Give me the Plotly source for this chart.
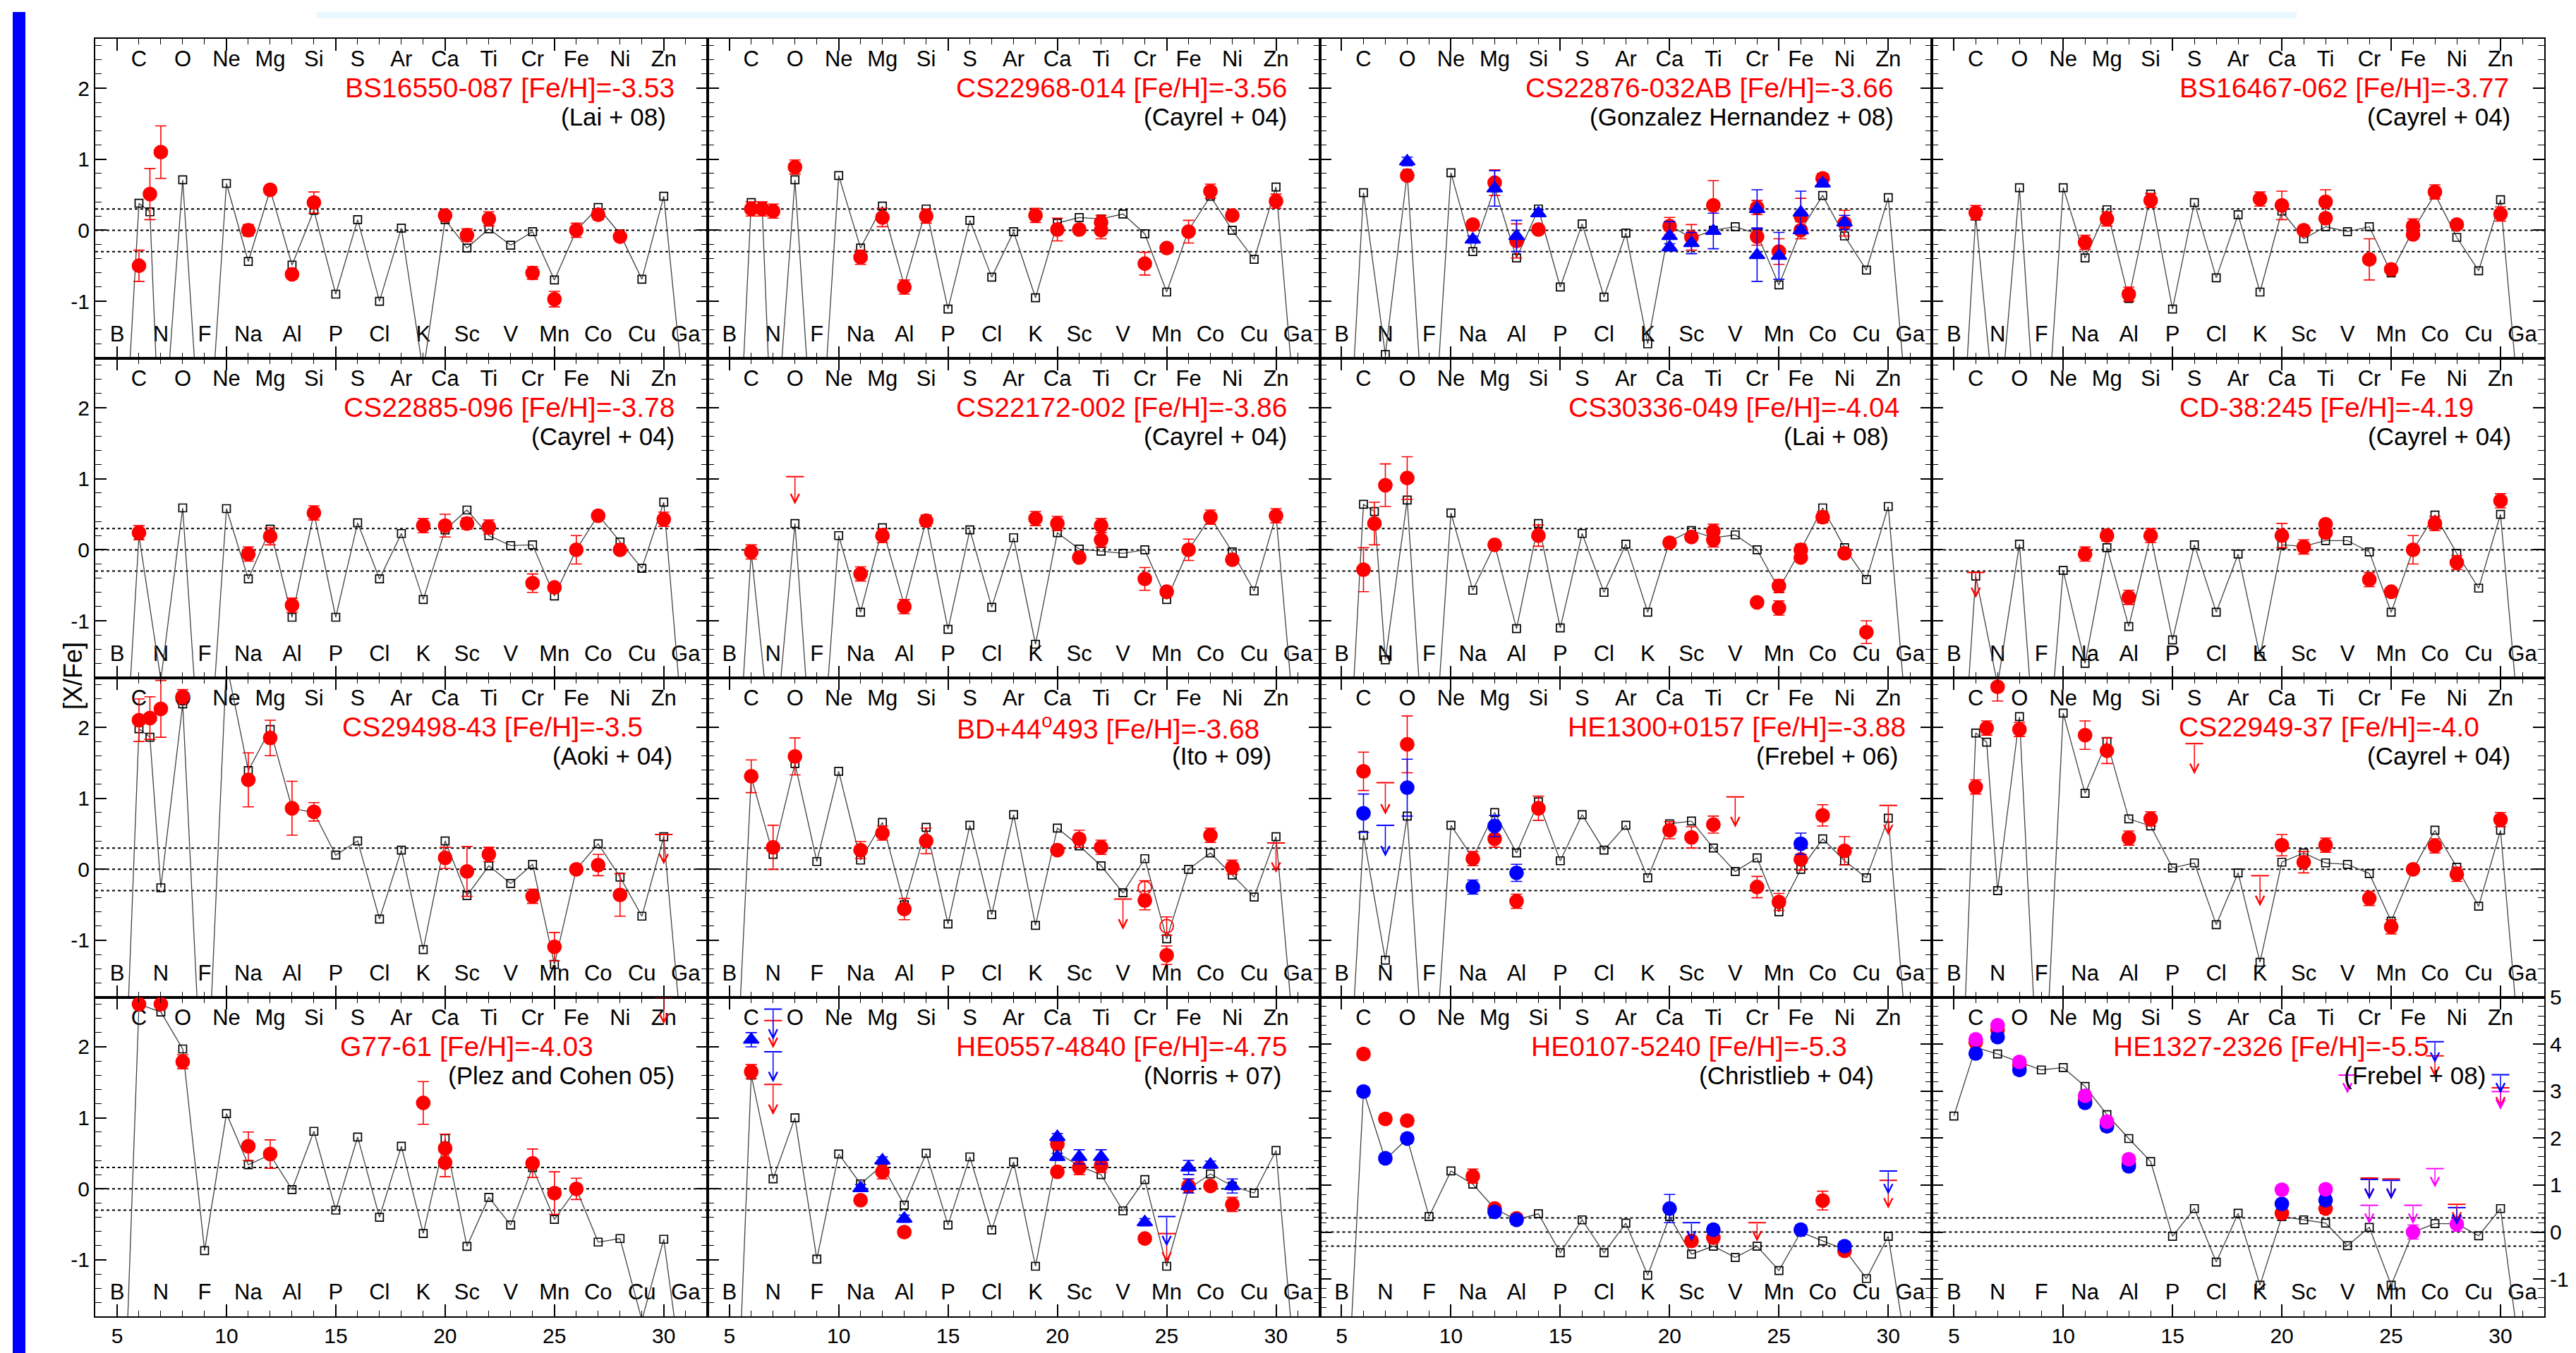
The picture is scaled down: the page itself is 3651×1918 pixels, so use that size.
import plotly.graph_objects as go

# ---------------------------------------------------------------- elements
ELEMENT_Z = list(range(5, 32))
ELEMENT_SYMBOLS = ["B", "C", "N", "O", "F", "Ne", "Na", "Mg", "Al", "Si", "P", "S", "Cl", "Ar",
                   "K", "Ca", "Sc", "Ti", "V", "Cr", "Mn", "Fe", "Co", "Ni", "Cu", "Zn", "Ga"]
# model yields are given on this grid (6.5 = C+N point used by some models)
MODEL_Z = [5, 6, 6.5, 7, 8, 9, 10, 11, 12, 13, 14, 15, 16, 17, 18, 19, 20, 21, 22, 23,
           24, 25, 26, 27, 28, 29, 30, 31]

STAR_NAMES = ["BS16550-087", "CS22968-014", "CS22876-032AB", "BS16467-062",
              "CS22885-096", "CS22172-002", "CS30336-049", "CD-38:245",
              "CS29498-43", "BD+44<sup>o</sup>493", "HE1300+0157", "CS22949-37",
              "G77-61", "HE0557-4840", "HE0107-5240", "HE1327-2326"]
STAR_FEH = ["-3.53", "-3.56", "-3.66", "-3.77", "-3.78", "-3.86", "-4.04", "-4.19",
            "-3.5", "-3.68", "-3.88", "-4.0", "-4.03", "-4.75", "-5.3", "-5.5"]
REFERENCES = ["(Lai + 08)", "(Cayrel + 04)", "(Gonzalez Hernandez + 08)", "(Cayrel + 04)",
              "(Cayrel + 04)", "(Cayrel + 04)", "(Lai + 08)", "(Cayrel + 04)",
              "(Aoki + 04)", "(Ito + 09)", "(Frebel + 06)", "(Cayrel + 04)",
              "(Plez and Cohen 05)", "(Norris + 07)", "(Christlieb + 04)", "(Frebel + 08)"]

# ---------------------------------------------------------------- model [X/Fe] on MODEL_Z
P01_MODEL = [-5, 0.38, 0.26, -3.5, 0.71, -4, 0.66, -0.44, 0.57, -0.49, 0.28, -0.90, 0.15, -1.00, 0.03, -2.0, 0.15, -0.25, 0.02, -0.21, -0.02, -0.70, 0.0, 0.32, -0.05, -0.69, 0.48, -2.6]
P02_MODEL = [-6, 0.39, 0.33, -3.5, 0.71, -4, 0.77, -0.25, 0.34, -0.78, 0.30, -1.11, 0.14, -0.66, -0.02, -0.95, 0.10, 0.18, 0.16, 0.23, -0.05, -0.87, 0.0, 0.48, 0.0, -0.41, 0.61, -3]
P03_MODEL = [-5, 0.53, None, -1.75, 0.80, -4, 0.81, -0.30, 0.60, -0.39, 0.30, -0.80, 0.09, -0.94, -0.04, -1.6, 0.07, -0.11, 0.0, 0.05, -0.05, -0.77, 0.0, 0.49, -0.08, -0.56, 0.46, -3]
P04_MODEL = [-5, 0.20, None, -3, 0.60, -4, 0.60, -0.39, 0.29, -0.96, 0.51, -1.11, 0.39, -0.67, 0.22, -0.87, 0.27, -0.12, 0.05, -0.02, 0.05, -0.60, 0.0, 0.51, -0.10, -0.57, 0.43, -3]
P05_MODEL = [-5, 0.20, None, -1.83, 0.59, -4, 0.58, -0.41, 0.29, -0.95, 0.52, -0.95, 0.38, -0.41, 0.23, -0.70, 0.28, 0.56, 0.20, 0.06, 0.07, -0.65, 0.0, 0.49, 0.11, -0.26, 0.67, -3]
P06_MODEL = [-5, -0.03, None, -3, 0.37, -4, 0.20, -0.88, 0.31, -0.78, 0.42, -1.12, 0.28, -0.81, 0.17, -1.33, 0.24, 0.01, -0.02, -0.05, 0.0, -0.70, 0.0, 0.46, -0.03, -0.58, 0.49, -3]
P07_MODEL = [-5, 0.64, 0.54, -1.55, 0.70, -4, 0.52, -0.57, 0.07, -1.11, 0.37, -1.10, 0.23, -0.60, 0.08, -0.88, 0.12, 0.27, 0.17, 0.21, 0.0, -0.55, 0.0, 0.59, 0.03, -0.42, 0.61, -3]
P08_MODEL = [-5, -0.37, None, -1.9, 0.08, -4, -0.29, -1.6, 0.03, -1.08, 0.20, -1.27, 0.07, -0.88, -0.06, -1.5, 0.07, 0.05, 0.13, 0.13, -0.03, -0.88, 0.0, 0.49, -0.05, -0.54, 0.50, -3]
P09_MODEL = [-6, 1.98, 1.86, -0.26, 2.33, -4, 2.9, 1.39, 1.97, 0.86, 0.80, 0.20, 0.40, -0.70, 0.27, -1.13, 0.40, -0.37, 0.05, -0.20, 0.07, -1.34, 0.0, 0.36, -0.11, -0.66, 0.46, -3]
P10_MODEL = [-5, 1.30, None, 0.21, 1.49, 0.11, 1.38, 0.13, 0.66, -0.50, 0.59, -0.77, 0.62, -0.64, 0.77, -0.79, 0.58, 0.33, 0.05, -0.33, 0.15, -0.98, 0.0, 0.23, -0.08, -0.39, 0.46, -3]
P11_MODEL = [-5, 0.48, None, -1.28, 0.75, -4, 0.62, 0.16, 0.80, 0.23, 0.95, 0.12, 0.77, 0.27, 0.62, -0.12, 0.64, 0.68, 0.30, -0.03, 0.16, -0.60, 0.0, 0.43, 0.12, -0.12, 0.72, -3]
P12_MODEL = [-6, 1.92, 1.79, -0.30, 2.15, -4, 2.20, 1.07, 1.80, 0.71, 0.61, 0.02, 0.09, -0.78, -0.05, -1.31, 0.10, 0.23, 0.09, 0.07, -0.06, -0.73, 0.0, 0.55, 0.03, -0.52, 0.55, -3]
P13_MODEL = [-6, 2.60, None, 2.49, 1.97, -0.87, 1.06, 0.34, 0.48, -0.01, 0.81, -0.30, 0.73, -0.40, 0.60, -0.63, 0.71, -0.81, -0.12, -0.51, 0.30, -0.43, 0.0, -0.75, -0.70, -1.85, -0.71, -3]
P14_MODEL = [-6, 1.60, None, 0.14, 1.00, -0.99, 0.49, 0.07, 0.33, -0.23, 0.50, -0.51, 0.45, -0.58, 0.38, -1.09, 0.51, 0.32, 0.20, -0.31, 0.13, -1.09, 0.0, 0.21, 0.04, -0.06, 0.54, -3]
P15_MODEL = [-6, 3.00, None, 1.54, 1.99, 0.33, 1.30, 1.02, 0.50, 0.26, 0.39, -0.44, 0.26, -0.44, 0.19, -0.92, 0.33, -0.47, -0.30, -0.54, -0.30, -0.82, 0.0, -0.19, -0.37, -0.99, -0.09, -3]
P16_MODEL = [2.47, 3.93, None, 3.79, 3.62, 3.45, 3.50, 3.10, 2.50, 1.99, 1.50, -0.09, 0.50, -0.64, 0.40, -1.13, 0.33, 0.26, 0.19, -0.29, 0.10, -1.13, 0.0, 0.18, 0.18, -0.08, 0.50, -3]

# ---------------------------------------------------------------- observations (Z, [X/Fe], error)
P01_RED = [(6, -0.50, 0.22), (6.5, 0.51, 0.36), (7, 1.10, 0.37), (11, 0.0, 0.08), (12, 0.57, 0.05),
           (13, -0.62, 0.05), (14, 0.39, 0.15), (20, 0.21, 0.05), (21, -0.07, 0.09), (22, 0.16, 0.10),
           (24, -0.60, 0.09), (25, -0.97, 0.11), (26, 0.0, 0.10), (27, 0.22, 0.07), (28, -0.09, 0.05)]
P02_RED = [(6, 0.30, 0.10), (6.5, 0.30, 0.10), (7, 0.27, 0.10), (8, 0.89, 0.10), (11, -0.38, 0.10),
           (12, 0.18, 0.13), (13, -0.80, 0.10), (14, 0.20, 0.10), (19, 0.21, 0.10), (20, 0.01, 0.16),
           (21, 0.01, 0.05), (22, 0.11, 0.10), (22, 0.0, 0.12), (24, -0.47, 0.16), (25, -0.25, 0.05),
           (26, -0.02, 0.16), (27, 0.55, 0.10), (28, 0.21, 0.05), (30, 0.41, 0.10)]
P03_RED = [(8, 0.77, 0.05), (11, 0.08, 0.05), (12, 0.67, 0.18), (13, -0.15, 0.24), (14, 0.01, 0.05),
           (20, 0.06, 0.12), (21, -0.10, 0.18), (22, 0.35, 0.35), (24, 0.32, 0.10), (24, -0.09, 0.12),
           (25, -0.30, 0.18), (26, 0.20, 0.25), (26, 0.0, 0.12), (27, 0.73, 0.07), (28, 0.10, 0.18)]
P03_BLUE_TRI = [(8, 0.97, 0.06), (11, -0.13, 0.05), (12, 0.59, 0.25), (13, -0.08, 0.22), (14, 0.24, 0.05),
                (20, -0.08, 0.20), (20, -0.24, 0.05), (21, -0.18, 0.15), (22, -0.01, 0.25), (24, 0.30, 0.27),
                (24, -0.35, 0.37), (25, -0.36, 0.33), (26, 0.25, 0.30), (26, 0.0, 0.05), (27, 0.66, 0.05),
                (28, 0.11, 0.10)]
P04_RED = [(6, 0.25, 0.10), (11, -0.17, 0.10), (12, 0.16, 0.10), (13, -0.90, 0.10), (14, 0.42, 0.10),
           (19, 0.44, 0.10), (20, 0.35, 0.20), (21, 0.0, 0.05), (22, 0.40, 0.17), (22, 0.17, 0.05),
           (24, -0.41, 0.29), (25, -0.55, 0.05), (26, 0.06, 0.10), (26, -0.06, 0.05), (27, 0.54, 0.10),
           (28, 0.08, 0.05), (30, 0.23, 0.10)]
P05_RED = [(6, 0.24, 0.10), (11, -0.06, 0.10), (12, 0.19, 0.12), (13, -0.78, 0.10), (14, 0.52, 0.10),
           (19, 0.34, 0.10), (20, 0.34, 0.16), (21, 0.37, 0.08), (22, 0.32, 0.10), (24, -0.47, 0.13),
           (25, -0.53, 0.05), (26, 0.0, 0.20), (27, 0.48, 0.05), (28, 0.0, 0.05), (30, 0.43, 0.10)]
P06_RED = [(6, -0.03, 0.10), (11, -0.34, 0.10), (12, 0.20, 0.10), (13, -0.80, 0.10), (14, 0.41, 0.08),
           (19, 0.44, 0.10), (20, 0.37, 0.10), (21, -0.11, 0.05), (22, 0.34, 0.10), (22, 0.14, 0.10),
           (24, -0.41, 0.16), (25, -0.59, 0.05), (26, 0.0, 0.15), (27, 0.46, 0.10), (28, -0.14, 0.05),
           (30, 0.48, 0.10)]
P06_RED_LIM = [(8, 1.03, 0.64)]
P07_RED = [(6, -0.28, 0.31), (6.5, 0.37, 0.30), (7, 0.91, 0.30), (8, 1.01, 0.30), (12, 0.07, 0.05),
           (14, 0.20, 0.15), (20, 0.10, 0.05), (21, 0.18, 0.05), (22, 0.26, 0.10), (22, 0.14, 0.10),
           (24, -0.74, 0.05), (25, -0.51, 0.09), (25, -0.82, 0.10), (26, 0.0, 0.08), (26, -0.11, 0.05),
           (27, 0.46, 0.08), (28, -0.05, 0.05), (29, -1.16, 0.16)]
P08_RED = [(11, -0.06, 0.10), (12, 0.20, 0.08), (13, -0.67, 0.10), (14, 0.20, 0.10), (20, 0.20, 0.17),
           (21, 0.04, 0.10), (22, 0.36, 0.05), (22, 0.24, 0.05), (24, -0.42, 0.10), (25, -0.59, 0.05),
           (26, 0.0, 0.20), (27, 0.37, 0.10), (28, -0.18, 0.10), (30, 0.69, 0.10)]
P08_RED_LIM = [(6, -0.32, -0.68)]
P09_RED = [(6, 2.10, 0.30), (6.5, 2.13, 0.30), (7, 2.26, 0.40), (8, 2.43, 0.10), (11, 1.26, 0.38),
           (12, 1.85, 0.25), (13, 0.86, 0.38), (14, 0.81, 0.13), (20, 0.16, 0.15), (21, -0.03, 0.35),
           (22, 0.21, 0.10), (24, -0.38, 0.10), (25, -1.09, 0.20), (26, 0.0, 0.05), (27, 0.06, 0.15),
           (28, -0.36, 0.30)]
P09_RED_LIM = [(30, 0.49, 0.07)]
P10_RED = [(6, 1.31, 0.23), (7, 0.31, 0.31), (8, 1.59, 0.26), (11, 0.27, 0.12), (12, 0.51, 0.10),
           (13, -0.56, 0.15), (14, 0.40, 0.18), (20, 0.27, 0.05), (21, 0.43, 0.12), (22, 0.31, 0.10),
           (24, -0.44, 0.13), (25, -1.21, 0.13), (27, 0.48, 0.10), (28, 0.03, 0.10)]
P10_RED_OPEN = [(24, -0.26, 0.10), (25, -0.80, 0.13)]
P10_RED_LIM = [(23, -0.42, -0.85), (30, 0.37, -0.05)]
P11_RED = [(6, 1.38, 0.27), (8, 1.76, 0.40), (11, 0.15, 0.10), (12, 0.43, 0.12), (13, -0.45, 0.10),
           (14, 0.86, 0.17), (20, 0.55, 0.12), (21, 0.45, 0.15), (22, 0.63, 0.12), (24, -0.25, 0.15),
           (25, -0.46, 0.12), (26, 0.14, 0.15), (27, 0.76, 0.15), (28, 0.26, 0.20)]
P11_RED_LIM = [(7, 1.22, 0.77), (23, 1.02, 0.59), (30, 0.90, 0.48)]
P11_BLUE = [(6, 0.79, 0.27), (8, 1.15, 0.40), (11, -0.25, 0.10), (12, 0.61, 0.15), (13, -0.05, 0.12),
            (26, 0.36, 0.15)]
P11_BLUE_LIM = [(7, 0.62, 0.18)]
P12_RED = [(6, 1.16, 0.10), (6.5, 1.99, 0.10), (7, 2.57, 0.20), (8, 1.97, 0.10), (11, 1.89, 0.20),
           (12, 1.67, 0.18), (13, 0.44, 0.10), (14, 0.71, 0.10), (20, 0.34, 0.15), (21, 0.10, 0.15),
           (22, 0.34, 0.10), (24, -0.41, 0.10), (25, -0.81, 0.10), (26, 0.0, 0.05), (27, 0.33, 0.10),
           (28, -0.07, 0.10), (30, 0.70, 0.10)]
P12_RED_LIM = [(16, 1.77, 1.34), (19, -0.09, -0.52)]
P13_RED = [(6, 2.60, 0.05), (7, 2.60, 0.05), (8, 1.79, 0.10), (11, 0.60, 0.20), (12, 0.49, 0.20),
           (19, 1.21, 0.30), (20, 0.57, 0.20), (20, 0.37, 0.20), (24, 0.36, 0.20), (25, -0.06, 0.30),
           (26, 0.0, 0.15)]
P13_RED_LIM = [(30, 2.70, 2.32)]
P14_RED = [(6, 1.65, 0.10), (11, -0.16, 0.05), (12, 0.24, 0.10), (13, -0.61, 0.05), (20, 0.63, 0.05),
           (20, 0.24, 0.05), (21, 0.30, 0.10), (22, 0.33, 0.10), (24, -0.70, 0.05), (26, 0.04, 0.10),
           (27, 0.04, 0.05), (28, -0.22, 0.10)]
P14_RED_LIM = [(7, 2.37, 1.98), (7, 1.47, 1.04), (25, -0.63, -1.04)]
P14_BLUE_TRI = [(6, 2.10, 0.10), (11, 0.01, 0.05), (12, 0.40, 0.05), (13, -0.42, 0.05), (20, 0.73, 0.05),
                (20, 0.45, 0.05), (21, 0.45, 0.10), (22, 0.45, 0.10), (24, -0.47, 0.05), (26, 0.30, 0.10),
                (26, 0.04, 0.10), (27, 0.34, 0.05), (28, 0.04, 0.10)]
P14_BLUE_LIM = [(7, 2.53, 2.10), (7, 1.93, 1.50), (25, -0.39, -0.81)]
P15_RED = [(6, 3.79, 0.10), (7, 2.41, 0.10), (8, 2.37, 0.10), (11, 1.19, 0.15), (12, 0.50, 0.10),
           (13, 0.29, 0.10), (21, -0.19, 0.10), (22, -0.12, 0.10), (27, 0.67, 0.20), (28, -0.40, 0.10)]
P15_BLUE = [(6, 2.99, 0.10), (7, 1.57, 0.10), (8, 1.99, 0.10), (12, 0.43, 0.10), (13, 0.26, 0.10),
            (20, 0.50, 0.30), (22, 0.05, 0.10), (26, 0.05, 0.10), (28, -0.30, 0.10)]
P15_RED_LIM = [(24, 0.20, -0.20), (30, 1.10, 0.50)]
P15_BLUE_LIM = [(21, 0.20, -0.20), (30, 1.30, 0.80)]
P16_RED = [(6, 4.04, 0.10), (7, 4.30, 0.10), (8, 3.55, 0.10), (11, 2.80, 0.10), (12, 2.30, 0.10),
           (13, 1.45, 0.10), (20, 0.40, 0.10), (22, 0.50, 0.10)]
P16_BLUE = [(6, 3.80, 0.10), (7, 4.15, 0.10), (8, 3.45, 0.10), (11, 2.75, 0.10), (12, 2.25, 0.10),
            (13, 1.40, 0.10), (20, 0.60, 0.10), (22, 0.68, 0.10)]
P16_MAGENTA = [(6, 4.10, 0.10), (7, 4.40, 0.10), (8, 3.62, 0.10), (11, 2.90, 0.10), (12, 2.35, 0.10),
               (13, 1.55, 0.10), (20, 0.90, 0.10), (22, 0.91, 0.10), (26, 0.0, 0.15), (28, 0.17, 0.15)]
P16_RED_LIM = [(24, 1.15, 0.70), (25, 1.13, 0.70), (27, 3.75, 3.30), (28, 0.59, 0.20), (30, 3.07, 2.65)]
P16_BLUE_LIM = [(24, 1.12, 0.70), (25, 1.10, 0.70), (27, 4.05, 3.60), (28, 0.52, 0.15), (30, 3.35, 2.95)]
P16_MAGENTA_LIM = [(23, 3.34, 2.95), (24, 0.57, 0.17), (26, 0.57, 0.17), (27, 1.35, 0.95), (30, 2.99, 2.60)]

MODELS = [P01_MODEL, P02_MODEL, P03_MODEL, P04_MODEL, P05_MODEL, P06_MODEL, P07_MODEL, P08_MODEL,
          P09_MODEL, P10_MODEL, P11_MODEL, P12_MODEL, P13_MODEL, P14_MODEL, P15_MODEL, P16_MODEL]

# per panel: (data, colour, symbol)
POINT_SETS = {
    0: [(P01_RED, "red", "circle")],
    1: [(P02_RED, "red", "circle")],
    2: [(P03_RED, "red", "circle"), (P03_BLUE_TRI, "blue", "triangle-up")],
    3: [(P04_RED, "red", "circle")],
    4: [(P05_RED, "red", "circle")],
    5: [(P06_RED, "red", "circle")],
    6: [(P07_RED, "red", "circle")],
    7: [(P08_RED, "red", "circle")],
    8: [(P09_RED, "red", "circle")],
    9: [(P10_RED, "red", "circle"), (P10_RED_OPEN, "red", "circle-open")],
    10: [(P11_RED, "red", "circle"), (P11_BLUE, "blue", "circle")],
    11: [(P12_RED, "red", "circle")],
    12: [(P13_RED, "red", "circle")],
    13: [(P14_RED, "red", "circle"), (P14_BLUE_TRI, "blue", "triangle-up")],
    14: [(P15_RED, "red", "circle"), (P15_BLUE, "blue", "circle")],
    15: [(P16_RED, "red", "circle"), (P16_BLUE, "blue", "circle"), (P16_MAGENTA, "magenta", "circle")],
}
LIMIT_SETS = {
    5: [(P06_RED_LIM, "red")],
    7: [(P08_RED_LIM, "red")],
    8: [(P09_RED_LIM, "red")],
    9: [(P10_RED_LIM, "red")],
    10: [(P11_RED_LIM, "red"), (P11_BLUE_LIM, "blue")],
    11: [(P12_RED_LIM, "red")],
    12: [(P13_RED_LIM, "red")],
    13: [(P14_RED_LIM, "red"), (P14_BLUE_LIM, "blue")],
    14: [(P15_RED_LIM, "red"), (P15_BLUE_LIM, "blue")],
    15: [(P16_RED_LIM, "red"), (P16_BLUE_LIM, "blue"), (P16_MAGENTA_LIM, "magenta")],
}

# x position (in Z) of the right edge of the star label and of the reference label
TITLE_RIGHT = [30.54, 30.56, 30.28, 30.45, 30.57, 30.57, 30.56, 28.83,
               29.10, 29.30, 30.85, 29.08, 26.85, 30.57, 28.20, 26.80]
REF_RIGHT = [30.17, 30.56, 30.30, 30.50, 30.57, 30.57, 30.10, 30.55,
             30.45, 29.85, 30.50, 30.50, 30.57, 30.30, 29.40, 29.40]

COLORS = {"red": "#FF0000", "blue": "#0000FF", "magenta": "#FF00FF"}
FONT = "Liberation Sans, Arial, Helvetica, sans-serif"

# ---------------------------------------------------------------- page geometry
W, H = 3651, 1918
FRAME_L, FRAME_R, FRAME_T, FRAME_B = 135, 3606, 38, 1866
COL_W = (FRAME_R - FRAME_L) / 4
ROW_H = (FRAME_B - FRAME_T) / 4
Y_RANGE_STD = [-1.8, 2.7]
Y_RANGE_BIG = [-1.8, 5.0]

fig = go.Figure()
annotations = []
shapes = []

for k in range(16):
    r, c = divmod(k, 4)
    sfx = "" if k == 0 else str(k + 1)
    xa, ya = "x" + sfx, "y" + sfx
    yr = Y_RANGE_BIG if k >= 14 else Y_RANGE_STD

    x0 = (FRAME_L + c * COL_W) / W
    x1 = (FRAME_L + (c + 1) * COL_W) / W
    y1 = 1 - (FRAME_T + r * ROW_H) / H
    y0 = 1 - (FRAME_T + (r + 1) * ROW_H) / H

    fig.layout["xaxis" + sfx] = dict(
        domain=[x0, x1], range=[4, 32], anchor=ya,
        tickmode="linear", tick0=0, dtick=5, ticks="inside", ticklen=17, tickwidth=1.6,
        tickcolor="black", minor=dict(dtick=1, tick0=0, ticks="inside", ticklen=8,
                                      tickwidth=1.4, tickcolor="black"),
        showline=True, linecolor="black", linewidth=2, mirror="allticks",
        showgrid=False, zeroline=False, showticklabels=(r == 3),
        tickfont=dict(family=FONT, size=30, color="black"),
    )
    tv = [-1, 0, 1, 2, 3, 4, 5] if k >= 14 else [-1, 0, 1, 2]
    fig.layout["yaxis" + sfx] = dict(
        domain=[y0, y1], range=yr, anchor=xa,
        tickmode="array", tickvals=tv, ticktext=[str(v) for v in tv],
        ticks="inside", ticklen=16, tickwidth=1.6, tickcolor="black",
        minor=dict(tickmode="linear", tick0=0, dtick=0.2, ticks="inside", ticklen=9,
                   tickwidth=1.4, tickcolor="black"),
        showline=True, linecolor="black", linewidth=2, mirror="allticks",
        showgrid=False, zeroline=False,
        showticklabels=(c == 0 or k == 15), side="right" if k == 15 else "left",
        tickfont=dict(family=FONT, size=30, color="black"),
    )

    # reference lines at 0 and +-0.3 dex
    for v in (-0.3, 0.0, 0.3):
        shapes.append(dict(type="line", xref=xa + " domain", x0=0, x1=1, yref=ya, y0=v, y1=v,
                           line=dict(color="black", width=2, dash="4px,4px"), layer="below"))

    # element symbols along the top (even Z) and bottom (odd Z)
    span = yr[1] - yr[0]
    top_y = yr[0] + 0.930 * span
    bot_y = yr[0] + 0.070 * span
    even = [(z, s) for z, s in zip(ELEMENT_Z, ELEMENT_SYMBOLS) if z % 2 == 0]
    odd = [(z, s) for z, s in zip(ELEMENT_Z, ELEMENT_SYMBOLS) if z % 2 == 1]
    for grp, yy in ((even, top_y), (odd, bot_y)):
        fig.add_trace(go.Scatter(
            x=[g[0] for g in grp], y=[yy] * len(grp), text=[g[1] for g in grp],
            mode="text", textfont=dict(family=FONT, size=31, color="black"),
            xaxis=xa, yaxis=ya, hoverinfo="skip", showlegend=False, cliponaxis=False))

    # model yield pattern
    fig.add_trace(go.Scatter(
        x=MODEL_Z, y=MODELS[k], mode="lines+markers", connectgaps=True,
        line=dict(color="#404040", width=1.3),
        marker=dict(symbol="square-open", size=11, color="black", line=dict(width=1.7)),
        xaxis=xa, yaxis=ya, showlegend=False, hoverinfo="skip"))

    # observed abundances
    for data, col, sym in POINT_SETS.get(k, []):
        colour = COLORS[col]
        fig.add_trace(go.Scatter(
            x=[d[0] for d in data], y=[d[1] for d in data], mode="markers",
            marker=dict(symbol=sym, size=19, color=colour, line=dict(width=1.8, color=colour)),
            error_y=dict(type="data", array=[d[2] for d in data], color=colour,
                         thickness=1.6, width=8),
            xaxis=xa, yaxis=ya, showlegend=False, hoverinfo="skip"))

    # upper limits: bar at the limit and an arrow pointing down
    for data, col in LIMIT_SETS.get(k, []):
        colour = COLORS[col]
        fig.add_trace(go.Scatter(
            x=[d[0] for d in data], y=[d[1] for d in data], mode="markers",
            marker=dict(symbol="line-ew-open", size=18, color=colour, line=dict(width=2, color=colour)),
            xaxis=xa, yaxis=ya, showlegend=False, hoverinfo="skip"))
        for z, top, bot in data:
            annotations.append(dict(
                x=z, y=bot, ax=z, ay=top, xref=xa, yref=ya, axref=xa, ayref=ya,
                text="", showarrow=True, arrowhead=5, arrowsize=1.6, arrowwidth=1.5,
                arrowcolor=colour, standoff=0, startstandoff=0))

    # star name and reference
    annotations.append(dict(
        x=TITLE_RIGHT[k], y=0.845, xref=xa, yref=ya + " domain", xanchor="right", yanchor="middle",
        text=f"{STAR_NAMES[k]} [Fe/H]={STAR_FEH[k]}", showarrow=False,
        font=dict(family=FONT, size=39, color="#FF0000")))
    annotations.append(dict(
        x=REF_RIGHT[k], y=0.755, xref=xa, yref=ya + " domain", xanchor="right", yanchor="middle",
        text=REFERENCES[k], showarrow=False, font=dict(family=FONT, size=35, color="black")))

# y-axis title
annotations.append(dict(
    x=81 / W, y=1 - 950 / H, xref="paper", yref="paper", text="[X/Fe]", textangle=-90,
    showarrow=False, font=dict(family=FONT, size=36, color="black")))

# page decorations: blue bar on the left and pale strip along the top
shapes.append(dict(type="rect", xref="paper", yref="paper", x0=18 / W, x1=36 / W, y0=0, y1=1,
                   fillcolor="#0000FF", line=dict(width=0), layer="above"))
shapes.append(dict(type="rect", xref="paper", yref="paper", x0=449 / W, x1=3255 / W,
                   y0=1 - 9 / H, y1=1, fillcolor="#E8F8FE", line=dict(width=0), layer="above"))

fig.update_layout(
    width=W, height=H, margin=dict(l=0, r=0, t=0, b=0),
    paper_bgcolor="white", plot_bgcolor="white",
    showlegend=False, annotations=annotations, shapes=shapes,
    font=dict(family=FONT, color="black"),
)

fig.write_html("out.html")
